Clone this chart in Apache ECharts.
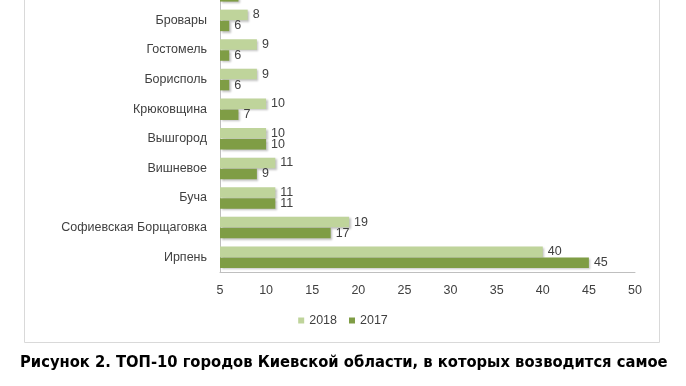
<!DOCTYPE html>
<html><head><meta charset="utf-8">
<script src="https://cdn.jsdelivr.net/npm/echarts@6/dist/echarts.min.js"></script>
<style>html,body{margin:0;padding:0;background:#fff}#c{width:686px;height:386px}</style>
</head><body><div id="c"></div>
<script>
// categories bottom-to-top (ECharts category y axis starts at the bottom)
const categories = ['Ирпень','Софиевская Борщаговка','Буча','Вишневое','Вышгород','Крюковщина','Борисполь','Гостомель','Бровары','Коцюбинское'];
const values2018 = [40,19,11,11,10,10,9,9,8,8];
const values2017 = [45,17,11,9,10,7,6,6,6,7];
const xTicks = {min:5, max:50, interval:5};
const caption = 'Рисунок 2. ТОП-10 городов Киевской области, в которых возводится самое';

const chart = echarts.init(document.getElementById('c'), null, {renderer:'canvas'});
const shadow = {shadowColor:'rgba(0,0,0,0.25)', shadowBlur:2, shadowOffsetX:1.5, shadowOffsetY:1.5};
const lbl = {show:true, position:'right', distance:5, color:'#404040', fontSize:12.5, fontFamily:'Liberation Sans'};
chart.setOption({
  animation:false,
  textStyle:{fontFamily:'Liberation Sans'},
  grid:{left:220, right:51, top:-24, height:296, containLabel:false, outerBoundsMode:'none'},
  xAxis:{type:'value', min:xTicks.min, max:xTicks.max, interval:xTicks.interval,
    axisLine:{show:true, lineStyle:{color:'#bfbfbf'}}, axisTick:{show:false}, splitLine:{show:false},
    axisLabel:{color:'#404040', fontSize:12.5, margin:12}},
  yAxis:{type:'category', data:categories,
    axisLine:{show:true, lineStyle:{color:'#bfbfbf'}}, axisTick:{show:false},
    axisLabel:{color:'#404040', fontSize:12.5, margin:13}},
  legend:{data:['2018','2017'], top:309, left:'center', itemWidth:6, itemHeight:6, itemGap:12,
    icon:'rect', textStyle:{color:'#404040', fontSize:12.5}},
  series:[
    {name:'2018', type:'bar', data:values2018, barWidth:10.5, barGap:'5%', barCategoryGap:'28%',
      itemStyle:Object.assign({color:'#bfd49b'}, shadow), label:lbl},
    {name:'2017', type:'bar', data:values2017, barWidth:10.5, barGap:'5%',
      itemStyle:Object.assign({color:'#7f9d45'}, shadow), label:lbl}
  ],
  graphic:[
    {type:'rect', left:22, top:-10, shape:{width:635, height:350}, style:{fill:'none', stroke:'#d9d9d9', lineWidth:1}, silent:true},
    {type:'text', left:20, top:355, style:{text:caption, fill:'#000', font:'bold 16.4px "Liberation Sans Narrow", "DejaVu Sans Condensed", sans-serif'}}
  ]
});
</script></body></html>
